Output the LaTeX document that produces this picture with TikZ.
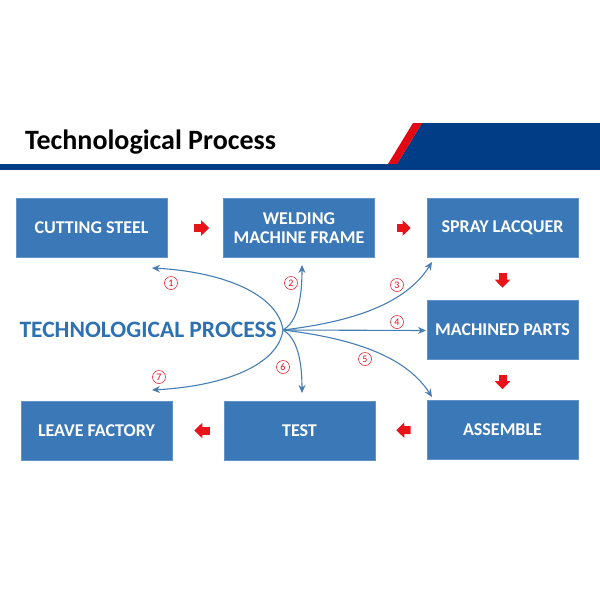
\documentclass[tikz,border=0pt]{standalone}
\usepackage{fontspec}
\setmainfont{Carlito}
\usetikzlibrary{arrows.meta}
\definecolor{boxblue}{RGB}{58,120,183}
\definecolor{navy}{RGB}{0,61,135}
\definecolor{hred}{RGB}{227,6,19}
\definecolor{ared}{RGB}{232,20,26}
\definecolor{curveblue}{RGB}{70,125,180}
\definecolor{hubblue}{RGB}{46,112,176}
\begin{document}
\begin{tikzpicture}[x=1pt,y=-1pt,
  procbox/.style={fill=boxblue,draw=boxblue!80!white,line width=0.6pt,minimum width=151pt,minimum height=59pt,inner sep=0pt,text=white,font=\fontsize{18}{19}\selectfont\bfseries,align=center},
  redarr/.style={draw=ared,line width=8pt,-{Triangle[width=15pt,length=8pt]}},
  branch/.style={draw=curveblue,line width=1.1pt,-{Stealth[length=8pt,width=7pt]}},
  num/.style={circle,draw=hred,line width=0.5pt,text=hred,inner sep=0pt,minimum size=13pt,font=\fontsize{10}{10}\selectfont}]
\useasboundingbox (0,0) rectangle (600,600);
% header
\fill[navy] (422,123) -- (600,123) -- (600,164) -- (397,164) -- cycle;
\fill[hred] (413,123) -- (422,123) -- (397,164) -- (388,164) -- cycle;
\fill[navy] (0,164) rectangle (600,170);
\node[anchor=base west,inner sep=0pt,font=\fontsize{28}{28}\selectfont\bfseries] (title) at (25,149) {Technological Process};
% boxes
\node[procbox] (cut) at (91.5,228) {CUTTING STEEL};
\node[procbox] (weld) at (299,228) {WELDING\\MACHINE FRAME};
\node[procbox] (spray) at (502.5,228) {SPRAY LACQUER};
\node[procbox] (mach) at (502.5,329.5) {MACHINED PARTS};
\node[procbox] (asm) at (502.5,430) {ASSEMBLE};
\node[procbox] (test) at (299.5,430.5) {TEST};
\node[procbox] (leave) at (96.5,430.5) {LEAVE FACTORY};
% red arrows
\draw[redarr,shorten <=27pt,shorten >=14pt] (cut.east) -- (weld.west);
\draw[redarr,shorten <=22pt,shorten >=16pt] (weld.east) -- (spray.west);
\draw[redarr,shorten <=15pt,shorten >=12pt] (spray.south) -- (mach.north);
\draw[redarr,shorten <=16pt,shorten >=11pt] (mach.south) -- (asm.north);
\draw[redarr,shorten <=16pt,shorten >=21pt] (asm.west) -- (test.east);
\draw[redarr,shorten <=14pt,shorten >=22pt] (test.west) -- (leave.east);
% hub
\node[anchor=east,inner sep=0pt,text=hubblue,font=\fontsize{23.5}{24}\selectfont\bfseries] (hubtext) at (277,330) {TECHNOLOGICAL PROCESS};
\coordinate (hub) at (283,330);
\coordinate (e1) at (152,268);
\coordinate (e2) at (302,265);
\coordinate (e3) at (432,262);
\coordinate (e4) at (426,330.5);
\coordinate (e5) at (432,397);
\coordinate (e6) at (302,393);
\coordinate (e7) at (152,390);
\draw[branch] (hub) .. controls (278,295) and (225,272) .. (e1);
\draw[branch] (hub) .. controls (297,322) and (302,300) .. (e2);
\draw[branch] (hub) .. controls (350,322) and (405,305) .. (e3);
\draw[branch] (hub) -- (e4);
\draw[branch] (hub) .. controls (350,338) and (405,355) .. (e5);
\draw[branch] (hub) .. controls (297,338) and (302,360) .. (e6);
\draw[branch] (hub) .. controls (278,365) and (225,386) .. (e7);
% numbers
\node[num] (n1) at (171,283) {1};
\node[num] (n2) at (291,283) {2};
\node[num] (n3) at (397,285) {3};
\node[num] (n4) at (397,322) {4};
\node[num] (n5) at (365,359) {5};
\node[num] (n6) at (283,367) {6};
\node[num] (n7) at (159,377) {7};
\end{tikzpicture}
\end{document}
